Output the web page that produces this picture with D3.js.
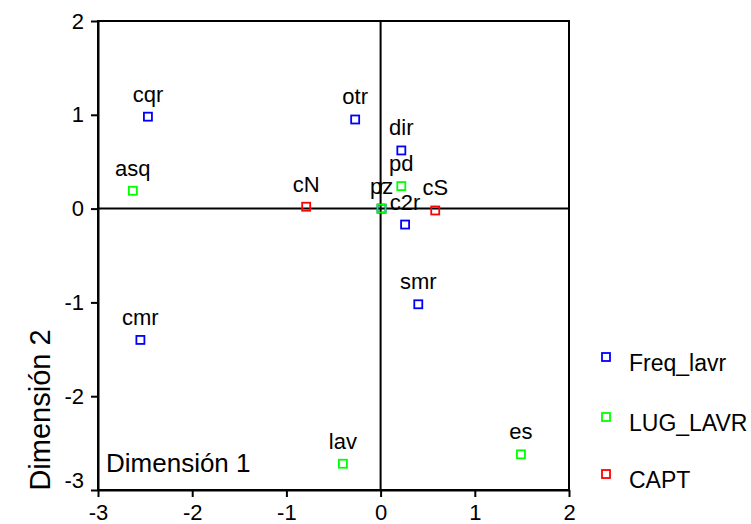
<!DOCTYPE html>
<html>
<head>
<meta charset="utf-8">
<script src="https://cdn.jsdelivr.net/npm/d3@7"></script>
<style>
  html, body { margin: 0; padding: 0; background: #fff; }
  text { font-family: "Liberation Sans", Arial, sans-serif; fill: #000; }
</style>
</head>
<body>
<svg id="chart" width="751" height="524"></svg>
<script>
// ---- data ----
const seriesNames = ["Freq_lavr", "LUG_LAVR", "CAPT"];
const seriesColors = ["#0000ff", "#00ff00", "#ff0000"];

const freqLabels = ["cqr", "otr", "dir", "c2r", "smr", "cmr", "r"];
const freqX = [-2.47, -0.27, 0.22, 0.26, 0.40, -2.55, 0.01];
const freqY = [0.98, 0.95, 0.62, -0.17, -1.02, -1.40, 0.00];

const lugLabels = ["asq", "pd", "pz", "lav", "es"];
const lugX = [-2.63, 0.22, 0.01, -0.40, 1.49];
const lugY = [0.19, 0.24, 0.00, -2.72, -2.62];

const captLabels = ["cN", "cS"];
const captX = [-0.79, 0.58];
const captY = [0.02, -0.02];

const xTicks = [-3, -2, -1, 0, 1, 2];
const yTicks = [-3, -2, -1, 0, 1, 2];
const xTitle = "Dimensión 1";
const yTitle = "Dimensión 2";

// ---- build ----
const series = [
  {name: seriesNames[0], color: seriesColors[0], labels: freqLabels, xs: freqX, ys: freqY},
  {name: seriesNames[1], color: seriesColors[1], labels: lugLabels, xs: lugX, ys: lugY},
  {name: seriesNames[2], color: seriesColors[2], labels: captLabels, xs: captX, ys: captY}
];

const svg = d3.select("#chart");
const L = 98, R = 569, T = 21, B = 490;
const x = d3.scaleLinear().domain([-3, 2]).range([L, R]);
const y = d3.scaleLinear().domain([-3, 2]).range([B, T]);
const fmt = d => String(d);

// frame
svg.append("rect")
  .attr("x", L).attr("y", T).attr("width", R - L).attr("height", B - T)
  .attr("fill", "none").attr("stroke", "#000").attr("stroke-width", 2);

// zero lines
svg.append("line").attr("x1", x(0)).attr("x2", x(0)).attr("y1", T).attr("y2", B)
  .attr("stroke", "#000").attr("stroke-width", 2);
svg.append("line").attr("x1", L).attr("x2", R).attr("y1", y(0)).attr("y2", y(0))
  .attr("stroke", "#000").attr("stroke-width", 2);

// axes
const xAxis = svg.append("g").attr("transform", `translate(0,${B})`)
  .call(d3.axisBottom(x).tickValues(xTicks).tickSize(7).tickSizeOuter(0).tickPadding(8).tickFormat(fmt));
const yAxis = svg.append("g").attr("transform", `translate(${L},0)`)
  .call(d3.axisLeft(y).tickValues(yTicks).tickSize(7).tickSizeOuter(0).tickPadding(7).tickFormat(fmt));
[xAxis, yAxis].forEach(g => {
  g.select(".domain").attr("stroke", "#000").attr("stroke-width", 2);
  g.selectAll(".tick line").attr("stroke", "#000").attr("stroke-width", 2);
  g.selectAll(".tick text").attr("font-size", 22).attr("font-family", "Liberation Sans, Arial, sans-serif").attr("fill", "#000");
});
xAxis.selectAll(".tick text").attr("dy", "0.68em");
yAxis.selectAll(".tick text").filter(d => d === -3).attr("dy", "-0.1em");

// points
const markSize = 8;
series.forEach(s => {
  const g = svg.append("g");
  s.labels.forEach((lab, i) => {
    const px = x(s.xs[i]), py = y(s.ys[i]);
    g.append("rect")
      .attr("x", px - markSize / 2).attr("y", py - markSize / 2)
      .attr("width", markSize).attr("height", markSize)
      .attr("fill", "none").attr("stroke", s.color).attr("stroke-width", 1.8);
    g.append("text")
      .attr("x", px).attr("y", py - 15)
      .attr("text-anchor", "middle").attr("font-size", 22)
      .text(lab);
  });
});

// axis titles
svg.append("text").attr("x", 106).attr("y", 472).attr("font-size", 26).text(xTitle);
svg.append("text")
  .attr("transform", `translate(50,${410}) rotate(-90)`)
  .attr("text-anchor", "middle").attr("font-size", 29).text(yTitle);

// legend
const legY = [357, 417, 474];
series.forEach((s, i) => {
  svg.append("rect")
    .attr("x", 606 - markSize / 2).attr("y", legY[i] - markSize / 2)
    .attr("width", markSize).attr("height", markSize)
    .attr("fill", "none").attr("stroke", s.color).attr("stroke-width", 1.8);
  svg.append("text").attr("x", 629).attr("y", legY[i] + 14)
    .attr("font-size", 23).text(s.name);
});
</script>
</body>
</html>
